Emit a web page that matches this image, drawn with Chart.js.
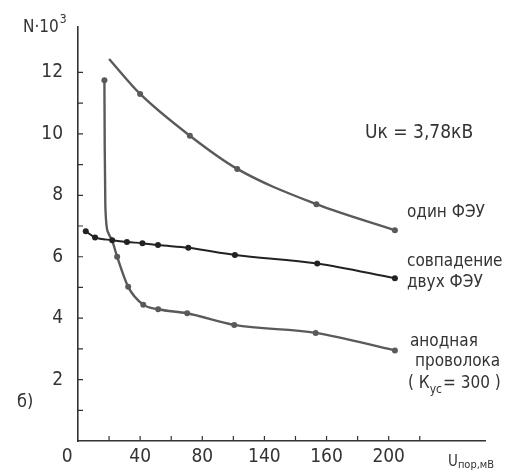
<!DOCTYPE html>
<html>
<head>
<meta charset="utf-8">
<script src="https://cdn.jsdelivr.net/npm/chart.js@4.4.1/dist/chart.umd.min.js"></script>
<style>
    html, body { margin: 0; padding: 0; background: #fff; }
    #wrap { width: 514px; height: 473px; position: relative; }
</style>
</head>
<body>
<div id="wrap"><canvas id="plot"></canvas></div>
<script>
// один ФЭУ
const oneTubeX = [20, 40, 72, 102.5, 153.5, 204];
const oneTubeY = [12.44, 11.3, 9.94, 8.86, 7.71, 6.86];
const oneTubeMarked = [false, true, true, true, true, true];

// совпадение двух ФЭУ
const coincX = [5, 11, 22, 31.5, 41.5, 51.5, 71, 101, 154, 204];
const coincY = [6.83, 6.63, 6.54, 6.48, 6.44, 6.38, 6.29, 6.06, 5.78, 5.3];

// анодная проволока
const anodeX = [17, 17.2, 17.6, 19.4, 21.9, 25.2, 32.3, 42, 51.6, 70.3, 100.6, 153, 204];
const anodeY = [11.75, 9.6, 7.65, 6.79, 6.54, 6.0, 5.02, 4.44, 4.29, 4.16, 3.78, 3.52, 2.95];
const anodeMarked = [true, false, false, false, false, true, true, true, true, true, true, true, true];

// tick labels as printed (120 is printed as "140" in the source)
const xTickLabels = { 0: '0    ', 40: '40', 80: '80', 120: '140', 160: '160', 200: '200' };
const yTickLabels = [2, 4, 6, 8, 10, 12];

const FONT = '"DejaVu Sans Condensed", "DejaVu Sans", sans-serif';
const INK = '#333';
const LINE = '#5a5a5a';

const pts = (xs, ys) => xs.map((x, i) => ({ x, y: ys[i] }));

const innerTicks = {
    id: 'innerTicks',
    afterDraw(chart) {
        const { ctx, scales: { x, y } } = chart;
        ctx.save();
        ctx.strokeStyle = INK;
        ctx.lineWidth = 1.2;
        ctx.beginPath();
        for (let v = 1; v <= 12; v++) {
            const py = y.getPixelForValue(v);
            ctx.moveTo(x.left, py);
            ctx.lineTo(x.left + 5, py);
        }
        for (let v = 20; v <= 220; v += 20) {
            const px = x.getPixelForValue(v);
            ctx.moveTo(px, y.bottom);
            ctx.lineTo(px, y.bottom - 5);
        }
        ctx.stroke();
        ctx.restore();
    }
};

const labels = {
    id: 'labels',
    afterDraw(chart) {
        const { ctx } = chart;
        const put = (txt, x, y, size) => {
            ctx.font = `${size}px ${FONT}`;
            ctx.fillText(txt, x, y);
            return x + ctx.measureText(txt).width;
        };
        ctx.save();
        ctx.fillStyle = INK;
        ctx.textAlign = 'left';
        ctx.textBaseline = 'middle';

        let e = put('N·10', 23, 28, 17);
        put('3', e + 1, 20, 12);

        put('Uк = 3,78кВ', 365, 133, 19);

        put('один ФЭУ', 407, 213, 17);
        put('совпадение', 407, 262, 17);
        put('двух ФЭУ', 407, 283, 17);
        put('анодная', 410, 342, 17);
        put('проволока', 415, 362, 17);
        e = put('( К', 408, 384, 17);
        e = put('ус', e, 390, 12);
        put('= 300 )', e + 1, 384, 17);

        put('б)', 17, 402, 18);

        e = put('U', 448, 462, 15);
        put('пор,мВ', e, 465, 11);
        ctx.restore();
    }
};

const lineStyle = (color, width) => ({
    showLine: true,
    borderColor: color,
    borderWidth: width,
    cubicInterpolationMode: 'monotone',
    pointBackgroundColor: color,
    pointBorderWidth: 0,
    fill: false
});

new Chart(document.getElementById('plot'), {
    type: 'scatter',
    data: {
        datasets: [
            {
                label: 'один ФЭУ',
                data: pts(oneTubeX, oneTubeY),
                ...lineStyle(LINE, 2.4),
                pointRadius: oneTubeMarked.map((m) => (m ? 3 : 0))
            },
            {
                label: 'совпадение двух ФЭУ',
                data: pts(coincX, coincY),
                ...lineStyle('#222', 2),
                pointRadius: 3
            },
            {
                label: 'анодная проволока',
                data: pts(anodeX, anodeY),
                ...lineStyle(LINE, 2.4),
                pointRadius: anodeMarked.map((m) => (m ? 3 : 0))
            }
        ]
    },
    options: {
        responsive: true,
        maintainAspectRatio: false,
        animation: false,
        layout: { padding: { top: 15, right: 29, left: 0, bottom: 0 } },
        plugins: { legend: { display: false }, tooltip: { enabled: false } },
        scales: {
            x: {
                type: 'linear',
                min: 0,
                max: 262,
                border: { display: true, color: INK, width: 1.6 },
                grid: { display: true, drawOnChartArea: false, drawTicks: false },
                afterFit: (scale) => { scale.height = 32; },
                ticks: {
                    stepSize: 20,
                    includeBounds: false,
                    autoSkip: false,
                    maxRotation: 0,
                    padding: 5,
                    color: INK,
                    font: { family: FONT, size: 19 },
                    callback: (v) => xTickLabels[v] ?? ''
                }
            },
            y: {
                min: 0,
                max: 13.5,
                border: { display: true, color: INK, width: 1.6 },
                grid: { display: true, drawOnChartArea: false, drawTicks: false },
                afterFit: (scale) => { scale.width = 78; },
                ticks: {
                    stepSize: 1,
                    includeBounds: false,
                    autoSkip: false,
                    padding: 15,
                    color: INK,
                    font: { family: FONT, size: 19 },
                    callback: (v) => (yTickLabels.includes(v) ? String(v) : '')
                }
            }
        }
    },
    plugins: [innerTicks, labels]
});
</script>
</body>
</html>
